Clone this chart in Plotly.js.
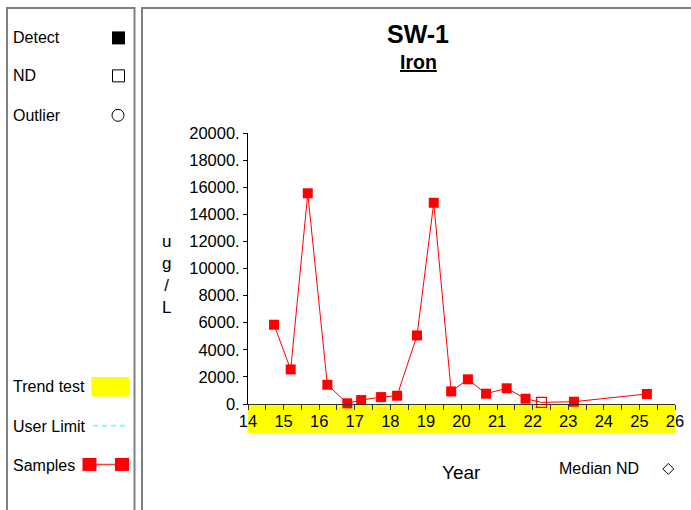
<!DOCTYPE html>
<html>
<head>
<meta charset="utf-8">
<script src="https://cdn.plot.ly/plotly-3.0.1.min.js"></script>
<style>html,body{margin:0;padding:0;background:#fff;}#chart{width:691px;height:510px;}</style>
</head>
<body>
<div id="chart"></div>
<script>
// ---- data ----
var years = [14.73, 15.20, 15.68, 16.23, 16.79, 17.18, 17.74, 18.19, 18.75, 19.22, 19.71, 20.18, 20.69, 21.27, 21.80, 22.25, 23.16, 25.21];
var values = [5850, 2550, 15550, 1420, 50, 290, 510, 610, 5060, 14850, 930, 1820, 760, 1160, 390, 120, 170, 740];
var detect = [1, 1, 1, 1, 1, 1, 1, 1, 1, 1, 1, 1, 1, 1, 1, 0, 1, 1];
var medianNDYear = [26.08];
var medianNDValue = [0];
var yTickVals = [0, 2000, 4000, 6000, 8000, 10000, 12000, 14000, 16000, 18000, 20000];
var yTickText = ["0.", "2000.", "4000.", "6000.", "8000.", "10000.", "12000.", "14000.", "16000.", "18000.", "20000."];
var xTickVals = [14, 15, 16, 17, 18, 19, 20, 21, 22, 23, 24, 25, 26];
var xTickText = ["14", "15", "16", "17", "18", "19", "20", "21", "22", "23", "24", "25", "26"];
var siteName = "SW-1";
var analyte = "Iron";
var unitsLabel = "u<br>g<br>/<br>L";

// ---- layout helpers ----
var L = 248, R = 675, T = 132.7, B = 404, W = 691, H = 510;
function PX(px) { return (px - L) / (R - L); }
function PY(py) { return (B - py) / (B - T); }
var FONT = "Liberation Sans, Arial, Helvetica, sans-serif";

var detX = [], detY = [], ndX = [], ndY = [];
for (var i = 0; i < years.length; i++) {
  if (detect[i]) { detX.push(years[i]); detY.push(values[i]); }
  else { ndX.push(years[i]); ndY.push(values[i]); }
}

var traces = [
  { x: years, y: values, type: 'scatter', mode: 'lines', line: { color: '#ff0000', width: 1 }, hoverinfo: 'none', cliponaxis: false },
  { x: detX, y: detY, type: 'scatter', mode: 'markers', marker: { symbol: 'square', size: 10, color: '#ff0000' }, cliponaxis: false },
  { x: ndX, y: ndY, type: 'scatter', mode: 'markers', marker: { symbol: 'square-open', size: 10, color: '#ff0000', line: { width: 1.3, color: '#ff0000' } }, cliponaxis: false },
  { x: medianNDYear, y: medianNDValue, type: 'scatter', mode: 'markers', marker: { symbol: 'diamond-open', size: 10, color: '#ff0000', line: { width: 1.2, color: '#ff0000' } }, cliponaxis: false }
];

function txt(s, px, py, size, anchor, extra) {
  var a = { text: s, xref: 'paper', yref: 'paper', x: PX(px), y: PY(py), xanchor: anchor || 'left', yanchor: 'middle',
    showarrow: false, font: { family: FONT, size: size, color: '#000' } };
  if (extra) for (var k in extra) a[k] = extra[k];
  return a;
}
function rect(x0, y0, x1, y1, fill, line) {
  return { type: 'rect', xref: 'paper', yref: 'paper', x0: PX(x0), x1: PX(x1), y0: PY(y0), y1: PY(y1),
    fillcolor: fill || 'rgba(0,0,0,0)', line: line || { width: 0 }, layer: 'above' };
}
function pline(x0, y0, x1, y1, color, width, dash) {
  return { type: 'line', xref: 'paper', yref: 'paper', x0: PX(x0), x1: PX(x1), y0: PY(y0), y1: PY(y1),
    line: { color: color, width: width, dash: dash || 'solid' }, layer: 'above' };
}
function diamondPath(cx, cy, r) {
  return 'M' + PX(cx) + ',' + PY(cy - r) + ' L' + PX(cx + r) + ',' + PY(cy) + ' L' + PX(cx) + ',' + PY(cy + r) + ' L' + PX(cx - r) + ',' + PY(cy) + ' Z';
}

var frame = { color: '#808080', width: 2 };
var shapes = [
  // yellow trend band under x axis
  { type: 'rect', xref: 'x', yref: 'paper', x0: 14, x1: 26, y0: PY(433), y1: 0, fillcolor: '#ffff00', line: { width: 0 }, layer: 'below' },
  // panel frames
  rect(7, 7.5, 134.5, 530, null, frame),
  rect(142, 7.5, 720, 530, null, frame),
  // legend symbols
  rect(112, 31, 125, 44, '#000000', { width: 0 }),
  rect(112.5, 69.5, 124.5, 81.5, '#ffffff', { color: '#000', width: 1 }),
  { type: 'circle', xref: 'paper', yref: 'paper', x0: PX(112), x1: PX(124), y0: PY(109), y1: PY(121), line: { color: '#000', width: 1 }, layer: 'above' },
  rect(91.5, 377, 129, 396.5, '#ffff00', { width: 0 }),
  pline(93, 425.7, 129, 425.7, '#80ffff', 2, '5px,4px'),
  pline(89, 464.5, 122, 464.5, '#ff4040', 1.5),
  rect(82.5, 458, 96.5, 471, '#ff0000', { width: 0 }),
  rect(115, 458, 129, 471, '#ff0000', { width: 0 }),
  { type: 'path', xref: 'paper', yref: 'paper', path: diamondPath(668.3, 469, 5.5), line: { color: '#000', width: 1 }, layer: 'above' }
];

var annotations = [
  txt('<b>' + siteName + '</b>', 418, 34, 25, 'center'),
  txt('<b><u>' + analyte + '</u></b>', 418, 62, 19.5, 'center'),
  txt(unitsLabel, 166.5, 274, 17, 'center'),
  txt('Year', 461, 473, 19, 'center'),
  txt('Median ND', 557, 469, 16, 'left'),
  txt('Detect', 11, 37.5, 16, 'left'),
  txt('ND', 11, 75.5, 16, 'left'),
  txt('Outlier', 11, 115.5, 16, 'left'),
  txt('Trend test', 11, 386.5, 16, 'left'),
  txt('User Limit', 11, 426.5, 16, 'left'),
  txt('Samples', 11, 465.5, 16, 'left')
];

var layout = {
  width: W, height: H,
  margin: { l: L, r: W - R, t: T, b: H - B, pad: 0 },
  paper_bgcolor: '#ffffff', plot_bgcolor: 'rgba(0,0,0,0)',
  showlegend: false,
  font: { family: FONT, color: '#000' },
  xaxis: {
    range: [14, 26], showgrid: false, zeroline: false, showline: true, linecolor: '#333', linewidth: 1,
    tickvals: xTickVals, ticktext: xTickText, ticks: 'outside', ticklen: 5, tickcolor: '#333', tickwidth: 1,
    ticklabelstandoff: -3,
    tickfont: { family: FONT, size: 16.5, color: '#000' },
    minor: { dtick: 0.5, tick0: 14, ticks: 'outside', ticklen: 5, tickcolor: '#333', tickwidth: 1, showgrid: false }
  },
  yaxis: {
    range: [0, 20000], showgrid: false, zeroline: false, showline: true, linecolor: '#000', linewidth: 1,
    tickvals: yTickVals, ticktext: yTickText, ticks: 'outside', ticklen: 4, tickcolor: '#000',
    tickfont: { family: FONT, size: 16.5, color: '#000' }
  },
  shapes: shapes,
  annotations: annotations
};

Plotly.newPlot('chart', traces, layout, { staticPlot: true, displayModeBar: false });
</script>
</body>
</html>
